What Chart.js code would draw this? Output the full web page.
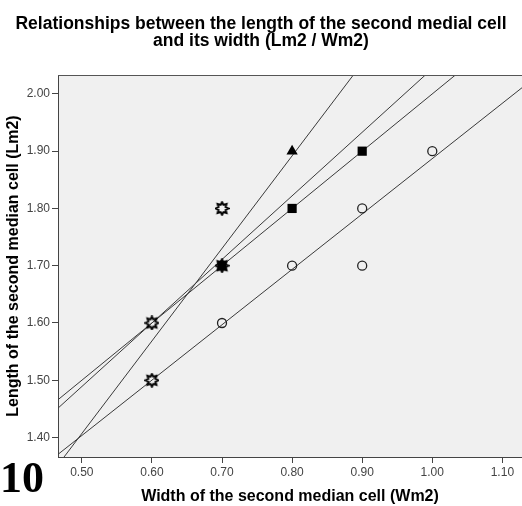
<!DOCTYPE html>
<html>
<head>
<meta charset="utf-8">
<script src="https://cdn.jsdelivr.net/npm/chart.js@4.4.1/dist/chart.umd.min.js"></script>
<style>
  html, body { margin: 0; padding: 0; background: #fff; }
  #wrap { position: relative; width: 522px; height: 506px; }
  #figno { position: absolute; left: 0; top: 452px; font: bold 44px "Liberation Serif", "Times New Roman", serif; color: #000; }
</style>
</head>
<body>
<div id="wrap">
  <canvas id="chart" width="522" height="506"></canvas>
  <div id="figno">10</div>
</div>
<script>
// axis ticks
const xTicks = [0.5, 0.6, 0.7, 0.8, 0.9, 1.0, 1.1];
const yTicks = [1.4, 1.5, 1.6, 1.7, 1.8, 1.9, 2.0];

// observed points, grouped by marker
const starX = [0.6, 0.6, 0.7, 0.7];
const starY = [1.5, 1.6, 1.7, 1.8];
const triX = [0.8];
const triY = [1.9];
const squareX = [0.7, 0.8, 0.9];
const squareY = [1.7, 1.8, 1.9];
const circleX = [0.7, 0.8, 0.9, 0.9, 1.0];
const circleY = [1.6, 1.7, 1.7, 1.8, 1.9];

// fit lines y = a + b*x
const fitIntercepts = [0.599, 0.934, 1.0, 0.92];
const fitSlopes = [1.616, 1.11, 1.0, 0.967];

const xMin = 0.466, xMax = 1.128;
const yMin = 1.366, yMax = 2.033;

function pts(xs, ys) {
  return xs.map((x, i) => ({ x: x, y: ys[i] }));
}

// sun-like marker
function makeSun() {
  const c = document.createElement('canvas');
  c.width = 15; c.height = 15;
  const g = c.getContext('2d');
  g.strokeStyle = '#000';
  g.lineWidth = 2;
  g.beginPath();
  for (let i = 0; i < 16; i++) {
    const r = i % 2 === 0 ? 6.3 : 3.9;
    const a = i * Math.PI / 8 - Math.PI / 2;
    const px = 7.5 + r * Math.cos(a), py = 7.5 + r * Math.sin(a);
    if (i === 0) g.moveTo(px, py); else g.lineTo(px, py);
  }
  g.closePath();
  g.stroke();
  return c;
}
const sun = makeSun();

const fitSets = fitIntercepts.map((a, i) => ({
  type: 'scatter',
  showLine: true,
  data: [{ x: xMin, y: a + fitSlopes[i] * xMin }, { x: xMax, y: a + fitSlopes[i] * xMax }],
  borderColor: '#3a3a3a',
  borderWidth: 1,
  pointRadius: 0,
  order: 3
}));

const frame = {
  id: 'frame',
  beforeDraw(chart) {
    const { ctx, chartArea: a } = chart;
    ctx.save();
    ctx.fillStyle = '#f0f0f0';
    ctx.fillRect(a.left, a.top, a.right - a.left, a.bottom - a.top);
    ctx.restore();
  },
  afterDraw(chart) {
    const { ctx, chartArea: a } = chart;
    ctx.save();
    ctx.strokeStyle = '#555';
    ctx.lineWidth = 1;
    ctx.beginPath();
    ctx.moveTo(a.left, a.top + 0.5);
    ctx.lineTo(a.right, a.top + 0.5);
    ctx.stroke();
    ctx.fillStyle = '#000';
    ctx.font = 'bold 17.5px "Liberation Sans", Arial, sans-serif';
    ctx.textAlign = 'center';
    ctx.fillText('Relationships between the length of the second medial cell', 261, 29);
    ctx.fillText('and its width (Lm2 / Wm2)', 261, 46);
    ctx.restore();
  }
};

const tickFont = { family: '"Liberation Sans", Arial', size: 12 };
const titleFont = { family: '"Liberation Sans", Arial', size: 16, weight: 'bold' };

new Chart(document.getElementById('chart'), {
  type: 'scatter',
  data: {
    datasets: [
      ...fitSets,
      { data: pts(starX, starY), pointStyle: sun, pointRadius: 7, order: 2 },
      { data: pts(circleX, circleY), pointStyle: 'circle', pointRadius: 4.5, borderColor: '#222', borderWidth: 1.3, backgroundColor: 'rgba(0,0,0,0)', order: 1 },
      { data: pts(squareX, squareY), pointStyle: 'rect', pointRadius: 6.5, borderColor: '#000', borderWidth: 0, backgroundColor: '#000', order: 0 },
      { data: pts(triX, triY), pointStyle: 'triangle', pointRadius: 6.5, borderColor: '#000', borderWidth: 0, backgroundColor: '#000', order: 0 }
    ]
  },
  options: {
    responsive: false,
    animation: false,
    layout: { autoPadding: false, padding: { top: 75, left: 0, right: 0, bottom: 0 } },
    plugins: { legend: { display: false }, tooltip: { enabled: false }, title: { display: false } },
    scales: {
      x: {
        type: 'linear',
        min: xMin,
        max: xMax,
        afterBuildTicks: s => { s.ticks = xTicks.map(v => ({ value: v })); },
        afterFit: s => { s.height = 49; s.paddingRight = 0; s.paddingLeft = 0; },
        ticks: { callback: v => v.toFixed(2), color: '#444', font: tickFont, padding: 2, maxRotation: 0 },
        grid: { drawOnChartArea: false, drawTicks: true, tickLength: 6, color: '#444' },
        border: { color: '#444', width: 1 },
        title: { display: true, text: 'Width of the second median cell (Wm2)', color: '#000', font: titleFont, padding: { top: 0, bottom: 0 } }
      },
      y: {
        type: 'linear',
        min: yMin,
        max: yMax,
        afterBuildTicks: s => { s.ticks = yTicks.map(v => ({ value: v })); },
        afterFit: s => { s.width = 58; },
        ticks: { callback: v => v.toFixed(2), color: '#444', font: tickFont, padding: 2 },
        grid: { drawOnChartArea: false, drawTicks: true, tickLength: 6, color: '#444' },
        border: { color: '#444', width: 1 },
        title: { display: true, text: 'Length of the second median cell (Lm2)', color: '#000', font: titleFont, padding: { top: 4, bottom: 0 } }
      }
    }
  },
  plugins: [frame]
});
</script>
</body>
</html>
